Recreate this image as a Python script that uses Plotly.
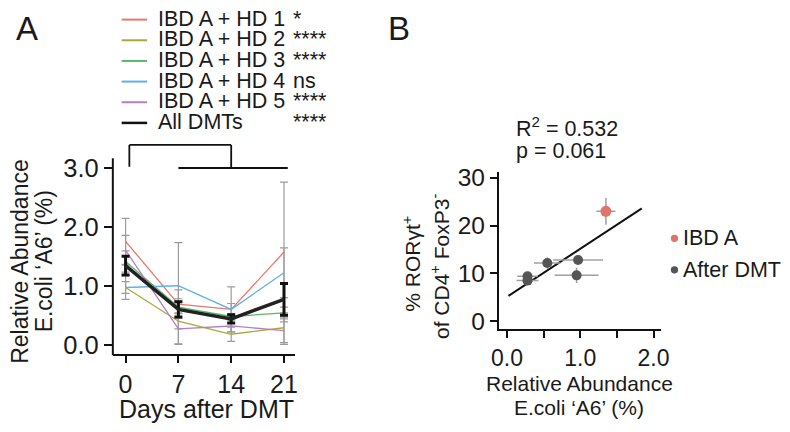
import plotly.graph_objects as go

# ---------------- data: panel A ----------------
days = [0, 7, 14, 21]
series_names = ["IBD A + HD 1", "IBD A + HD 2", "IBD A + HD 3", "IBD A + HD 4", "IBD A + HD 5"]
series_sig = ["*", "****", "****", "ns", "****"]
series_colors = ["#E8776C", "#A9A83E", "#5DB56C", "#62AEE6", "#B97DC2"]
hd1 = [1.76, 0.70, 0.61, 1.58]
hd2 = [0.98, 0.41, 0.19, 0.30]
hd3 = [1.42, 0.65, 0.49, 0.55]
hd4 = [0.98, 1.01, 0.61, 1.23]
hd5 = [1.61, 0.28, 0.33, 0.25]
hd1_sd = [0.39, 0.24, 0.38, 1.18]
hd2_sd = [0.20, 0.38, 0.12, 0.25]
hd3_sd = [0.18, 0.10, 0.05, 0.10]
hd4_sd = [0.10, 0.73, 0.10, 0.42]
hd5_sd = [0.25, 0.26, 0.10, 0.23]
all_name = "All DMTs"
all_sig = "****"
all_mean = [1.35, 0.61, 0.45, 0.78]
all_sem = [0.16, 0.13, 0.07, 0.27]
a_yticks = [0, 1, 2, 3]
a_yticklabels = ["0.0", "1.0", "2.0", "3.0"]

# ---------------- data: panel B ----------------
ibd_x = [1.35]
ibd_y = [23.0]
ibd_xerr = [0.13]
ibd_yerr = [2.8]
dmt_x = [0.28, 0.28, 0.55, 0.97, 0.95]
dmt_y = [9.4, 8.5, 12.2, 12.8, 9.6]
dmt_xerr = [0.14, 0.15, 0.18, 0.34, 0.30]
dmt_yerr = [0.6, 0.5, 1.2, 0.8, 1.6]
fit_x = [0.02, 1.84]
fit_y = [5.3, 23.6]
b_xticks = [0, 0.5, 1.0, 1.5, 2.0]
b_xticklabels = ["0.0", "", "1.0", "", "2.0"]
b_yticks = [0, 10, 20, 30]
stats_text = ["R<sup>2</sup> = 0.532", "p = 0.061"]
b_legend = ["IBD A", "After DMT"]
b_colors = ["#E0736A", "#555555"]

FONT = "Liberation Sans, Arial, Helvetica, sans-serif"
TXT = "#1a1a1a"
W, H = 790, 432


def PX(x):
    return x / W


def PY(y):
    return 1 - y / H


fig = go.Figure()

# panel A: per-series error bars (grey), then lines
all_series = [hd1, hd2, hd3, hd4, hd5]
all_sds = [hd1_sd, hd2_sd, hd3_sd, hd4_sd, hd5_sd]
for vals, sds in zip(all_series, all_sds):
    fig.add_trace(go.Scatter(
        x=days, y=vals, mode="markers", marker=dict(size=1, opacity=0),
        error_y=dict(type="data", array=sds, color="#9c9c9c", thickness=1.2, width=4),
        xaxis="x", yaxis="y", showlegend=False, hoverinfo="skip"))
for vals, col, name in zip(all_series, series_colors, series_names):
    fig.add_trace(go.Scatter(
        x=days, y=vals, mode="lines", line=dict(color=col, width=1.3),
        name=name, xaxis="x", yaxis="y", showlegend=False))
fig.add_trace(go.Scatter(
    x=days, y=all_mean, mode="lines", line=dict(color="#222222", width=3.5),
    error_y=dict(type="data", array=all_sem, color="#111111", thickness=3, width=4),
    name=all_name, xaxis="x", yaxis="y", showlegend=False))

# panel B
fig.add_trace(go.Scatter(
    x=fit_x, y=fit_y, mode="lines", line=dict(color="#111111", width=2),
    xaxis="x2", yaxis="y2", showlegend=False))
fig.add_trace(go.Scatter(
    x=dmt_x, y=dmt_y, mode="markers",
    marker=dict(color=b_colors[1], size=10),
    error_x=dict(type="data", array=dmt_xerr, color="#a0a0a0", thickness=1.5, width=0),
    error_y=dict(type="data", array=dmt_yerr, color="#a0a0a0", thickness=1.5, width=0),
    name=b_legend[1], xaxis="x2", yaxis="y2", showlegend=False))
fig.add_trace(go.Scatter(
    x=ibd_x, y=ibd_y, mode="markers",
    marker=dict(color=b_colors[0], size=11),
    error_x=dict(type="data", array=ibd_xerr, color="#a0a0a0", thickness=1.5, width=0),
    error_y=dict(type="data", array=ibd_yerr, color="#a0a0a0", thickness=1.5, width=0),
    name=b_legend[0], xaxis="x2", yaxis="y2", showlegend=False))

# axis geometry (pixels)
A_x0, A_x1 = 107, 293
A_top, A_bot = 138, 358
a_x_zero, a_px_per_day = 120.0, 7.70
a_y_zero, a_px_per_unit = 349.0, 61.0
B_x0, B_x1 = 501, 667
B_top, B_bot = 170, 332
b_x_zero, b_px_per_unit = 509.3, 74.8
b_y_zero, b_px_per_unit_y = 324.0, 4.93

axis_common = dict(showgrid=False, zeroline=False, ticks="outside", tickcolor="#111")

fig.update_layout(
    width=W, height=H, margin=dict(l=0, r=0, t=0, b=0),
    paper_bgcolor="white", plot_bgcolor="white",
    showlegend=False,
    xaxis=dict(domain=[PX(A_x0), PX(A_x1)],
               range=[(A_x0 - a_x_zero) / a_px_per_day, (A_x1 - a_x_zero) / a_px_per_day],
               tickvals=days, ticktext=[str(d) for d in days], ticklen=7, tickwidth=2,
               tickfont=dict(family=FONT, size=25, color=TXT),
               showline=True, linecolor="#111", linewidth=2, anchor="y", **axis_common),
    yaxis=dict(domain=[PY(A_bot), PY(A_top)],
               range=[(a_y_zero - A_bot) / a_px_per_unit, (a_y_zero - A_top) / a_px_per_unit],
               tickvals=a_yticks, ticktext=a_yticklabels, ticklen=8, tickwidth=2,
               tickfont=dict(family=FONT, size=25.5, color=TXT),
               showline=False, anchor="x", **axis_common),
    xaxis2=dict(domain=[PX(B_x0), PX(B_x1)],
                range=[(B_x0 - b_x_zero) / b_px_per_unit, (B_x1 - b_x_zero) / b_px_per_unit],
                tickvals=b_xticks, ticktext=b_xticklabels, ticklen=7, tickwidth=2,
                tickfont=dict(family=FONT, size=23, color=TXT),
                showline=True, linecolor="#111", linewidth=2, anchor="y2", **axis_common),
    yaxis2=dict(domain=[PY(B_bot), PY(B_top)],
                range=[(b_y_zero - B_bot) / b_px_per_unit_y, (b_y_zero - B_top) / b_px_per_unit_y],
                tickvals=b_yticks, ticklen=7, tickwidth=2,
                tickfont=dict(family=FONT, size=24.5, color=TXT),
                showline=True, linecolor="#111", linewidth=2, anchor="x2", **axis_common),
)

shapes = []
# panel A y-axis line (shorter than plot area to leave room for bracket)
shapes.append(dict(type="line", xref="paper", yref="paper",
                   x0=PX(A_x0), x1=PX(A_x0), y0=PY(A_bot + 1), y1=PY(156),
                   line=dict(color="#111", width=2)))
# significance bracket (data coords of panel A)
br = dict(type="line", xref="x", yref="y", line=dict(color="#111", width=1.8))
shapes += [
    dict(br, x0=0.5, x1=0.5, y0=3.02, y1=3.39),
    dict(br, x0=0.5, x1=14, y0=3.39, y1=3.39),
    dict(br, x0=14, x1=14, y0=3.39, y1=3.0),
    dict(br, x0=7, x1=21.5, y0=3.0, y1=3.0),
]
# legend A line swatches
leg_rows = [12 + 21.3 * i for i in range(6)]
leg_cols = series_colors + ["#111111"]
for yy, col in zip(leg_rows, leg_cols):
    shapes.append(dict(type="line", xref="paper", yref="paper",
                       x0=PX(116), x1=PX(142), y0=PY(yy + 1), y1=PY(yy + 1),
                       line=dict(color=col, width=2.5 if col == "#111111" else 2)))
# legend B dots
for yy, col in zip([238.5, 271], b_colors):
    shapes.append(dict(type="circle", xref="paper", yref="paper",
                       x0=PX(676.5), x1=PX(684), y0=PY(yy + 3.75), y1=PY(yy - 3.75),
                       fillcolor=col, line=dict(width=0)))
fig.update_layout(shapes=shapes)

ann = []


def text(s, x, y, size, xanchor="center", yanchor="middle", angle=0):
    ann.append(dict(text=s, x=PX(x), y=PY(y), xref="paper", yref="paper",
                    xanchor=xanchor, yanchor=yanchor, showarrow=False, textangle=angle,
                    font=dict(family=FONT, size=size, color=TXT)))


text("A", 19, 22, 33)
text("B", 399, 22, 33)
for yy, name, sig in zip(leg_rows, series_names + [all_name], series_sig + [all_sig]):
    text(name, 151, yy, 21.5, xanchor="left")
    text(sig, 289, yy, 21.5, xanchor="left")
text("Days after DMT", 203, 414, 25)
text("Relative Abundance", 12, 262, 23, angle=-90)
text("E.coli \u2018A6\u2019 (%)", 37, 262, 23, angle=-90)
text(stats_text[0], 516, 124, 21.5, xanchor="left")
text(stats_text[1], 516, 148, 21.5, xanchor="left")
text("% ROR\u03b3t<sup>+</sup>", 412, 265, 21, angle=-90)
text("of CD4<sup>+</sup> FoxP3<sup>-</sup>", 441, 268, 21, angle=-90)
text("Relative Abundance", 583, 388, 21)
text("E.coli \u2018A6\u2019 (%)", 583, 413, 21)
text(b_legend[0], 687, 238, 21.5, xanchor="left")
text(b_legend[1], 687, 271, 21.5, xanchor="left")
fig.update_layout(annotations=ann)

fig.write_html("out.html", config={"displayModeBar": False},
               post_script="document.body.style.margin='0px';")
